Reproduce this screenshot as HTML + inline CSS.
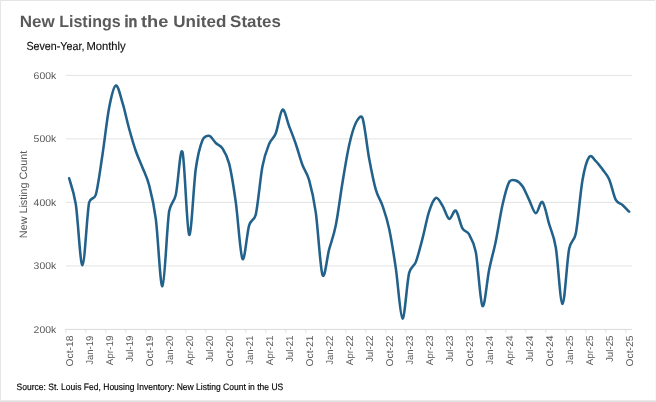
<!DOCTYPE html>
<html lang="en"><head><meta charset="utf-8"><title>New Listings in the United States</title>
<style>
html,body{margin:0;padding:0;background:#fff;}
body{width:656px;height:402px;overflow:hidden;}
svg{display:block;text-rendering:geometricPrecision;font-family:"Liberation Sans",sans-serif;}
</style></head><body>
<svg width="656" height="402" viewBox="0 0 656 402">
<rect x="0" y="0" width="656" height="402" fill="#ffffff"/>
<rect x="0" y="0" width="656" height="1" fill="#e4e4e4"/>
<rect x="0" y="0" width="1" height="402" fill="#e6e6e6"/>
<rect x="655" y="0" width="1" height="402" fill="#f8f8f8"/>
<rect x="0" y="400" width="656" height="1" fill="#eaeaea"/>
<rect x="0" y="401" width="656" height="1" fill="#e2e2e2"/>

<line x1="66" x2="632" y1="75.4" y2="75.4" stroke="#e3e3e3" stroke-width="1"/>
<line x1="66" x2="632" y1="138.9" y2="138.9" stroke="#e3e3e3" stroke-width="1"/>
<line x1="66" x2="632" y1="202.4" y2="202.4" stroke="#e3e3e3" stroke-width="1"/>
<line x1="66" x2="632" y1="265.9" y2="265.9" stroke="#e3e3e3" stroke-width="1"/>
<line x1="65.5" x2="632.2" y1="329.4" y2="329.4" stroke="#d9d9d9" stroke-width="1"/>
<line x1="65.80" x2="65.80" y1="329.4" y2="332.7" stroke="#dedede" stroke-width="1"/>
<line x1="85.80" x2="85.80" y1="329.4" y2="332.7" stroke="#dedede" stroke-width="1"/>
<line x1="105.80" x2="105.80" y1="329.4" y2="332.7" stroke="#dedede" stroke-width="1"/>
<line x1="125.80" x2="125.80" y1="329.4" y2="332.7" stroke="#dedede" stroke-width="1"/>
<line x1="145.80" x2="145.80" y1="329.4" y2="332.7" stroke="#dedede" stroke-width="1"/>
<line x1="165.80" x2="165.80" y1="329.4" y2="332.7" stroke="#dedede" stroke-width="1"/>
<line x1="185.80" x2="185.80" y1="329.4" y2="332.7" stroke="#dedede" stroke-width="1"/>
<line x1="205.80" x2="205.80" y1="329.4" y2="332.7" stroke="#dedede" stroke-width="1"/>
<line x1="225.80" x2="225.80" y1="329.4" y2="332.7" stroke="#dedede" stroke-width="1"/>
<line x1="245.80" x2="245.80" y1="329.4" y2="332.7" stroke="#dedede" stroke-width="1"/>
<line x1="265.80" x2="265.80" y1="329.4" y2="332.7" stroke="#dedede" stroke-width="1"/>
<line x1="285.80" x2="285.80" y1="329.4" y2="332.7" stroke="#dedede" stroke-width="1"/>
<line x1="305.80" x2="305.80" y1="329.4" y2="332.7" stroke="#dedede" stroke-width="1"/>
<line x1="325.80" x2="325.80" y1="329.4" y2="332.7" stroke="#dedede" stroke-width="1"/>
<line x1="345.80" x2="345.80" y1="329.4" y2="332.7" stroke="#dedede" stroke-width="1"/>
<line x1="365.80" x2="365.80" y1="329.4" y2="332.7" stroke="#dedede" stroke-width="1"/>
<line x1="385.80" x2="385.80" y1="329.4" y2="332.7" stroke="#dedede" stroke-width="1"/>
<line x1="405.80" x2="405.80" y1="329.4" y2="332.7" stroke="#dedede" stroke-width="1"/>
<line x1="425.80" x2="425.80" y1="329.4" y2="332.7" stroke="#dedede" stroke-width="1"/>
<line x1="445.80" x2="445.80" y1="329.4" y2="332.7" stroke="#dedede" stroke-width="1"/>
<line x1="465.80" x2="465.80" y1="329.4" y2="332.7" stroke="#dedede" stroke-width="1"/>
<line x1="485.80" x2="485.80" y1="329.4" y2="332.7" stroke="#dedede" stroke-width="1"/>
<line x1="505.80" x2="505.80" y1="329.4" y2="332.7" stroke="#dedede" stroke-width="1"/>
<line x1="525.80" x2="525.80" y1="329.4" y2="332.7" stroke="#dedede" stroke-width="1"/>
<line x1="545.80" x2="545.80" y1="329.4" y2="332.7" stroke="#dedede" stroke-width="1"/>
<line x1="565.80" x2="565.80" y1="329.4" y2="332.7" stroke="#dedede" stroke-width="1"/>
<line x1="585.80" x2="585.80" y1="329.4" y2="332.7" stroke="#dedede" stroke-width="1"/>
<line x1="605.80" x2="605.80" y1="329.4" y2="332.7" stroke="#dedede" stroke-width="1"/>
<line x1="625.80" x2="625.80" y1="329.4" y2="332.7" stroke="#dedede" stroke-width="1"/>
<text x="56.2" y="78.5" text-anchor="end" font-size="9.8" fill="#595959" textLength="22.6" lengthAdjust="spacingAndGlyphs">600k</text>
<text x="56.2" y="142.0" text-anchor="end" font-size="9.8" fill="#595959" textLength="22.6" lengthAdjust="spacingAndGlyphs">500k</text>
<text x="56.2" y="205.5" text-anchor="end" font-size="9.8" fill="#595959" textLength="22.6" lengthAdjust="spacingAndGlyphs">400k</text>
<text x="56.2" y="269.0" text-anchor="end" font-size="9.8" fill="#595959" textLength="22.6" lengthAdjust="spacingAndGlyphs">300k</text>
<text x="56.2" y="332.5" text-anchor="end" font-size="9.8" fill="#595959" textLength="22.6" lengthAdjust="spacingAndGlyphs">200k</text>
<text transform="translate(72.68,335.6) rotate(-90)" text-anchor="end" font-size="9.8" fill="#595959" textLength="30.8" lengthAdjust="spacingAndGlyphs">Oct-18</text>
<text transform="translate(92.68,335.6) rotate(-90)" text-anchor="end" font-size="9.8" fill="#595959" textLength="29.2" lengthAdjust="spacingAndGlyphs">Jan-19</text>
<text transform="translate(112.68,335.6) rotate(-90)" text-anchor="end" font-size="9.8" fill="#595959" textLength="29.7" lengthAdjust="spacingAndGlyphs">Apr-19</text>
<text transform="translate(132.68,335.6) rotate(-90)" text-anchor="end" font-size="9.8" fill="#595959" textLength="26.4" lengthAdjust="spacingAndGlyphs">Jul-19</text>
<text transform="translate(152.68,335.6) rotate(-90)" text-anchor="end" font-size="9.8" fill="#595959" textLength="30.8" lengthAdjust="spacingAndGlyphs">Oct-19</text>
<text transform="translate(172.68,335.6) rotate(-90)" text-anchor="end" font-size="9.8" fill="#595959" textLength="29.2" lengthAdjust="spacingAndGlyphs">Jan-20</text>
<text transform="translate(192.68,335.6) rotate(-90)" text-anchor="end" font-size="9.8" fill="#595959" textLength="29.7" lengthAdjust="spacingAndGlyphs">Apr-20</text>
<text transform="translate(212.68,335.6) rotate(-90)" text-anchor="end" font-size="9.8" fill="#595959" textLength="26.4" lengthAdjust="spacingAndGlyphs">Jul-20</text>
<text transform="translate(232.68,335.6) rotate(-90)" text-anchor="end" font-size="9.8" fill="#595959" textLength="30.8" lengthAdjust="spacingAndGlyphs">Oct-20</text>
<text transform="translate(252.68,335.6) rotate(-90)" text-anchor="end" font-size="9.8" fill="#595959" textLength="29.2" lengthAdjust="spacingAndGlyphs">Jan-21</text>
<text transform="translate(272.68,335.6) rotate(-90)" text-anchor="end" font-size="9.8" fill="#595959" textLength="29.7" lengthAdjust="spacingAndGlyphs">Apr-21</text>
<text transform="translate(292.68,335.6) rotate(-90)" text-anchor="end" font-size="9.8" fill="#595959" textLength="26.4" lengthAdjust="spacingAndGlyphs">Jul-21</text>
<text transform="translate(312.68,335.6) rotate(-90)" text-anchor="end" font-size="9.8" fill="#595959" textLength="30.8" lengthAdjust="spacingAndGlyphs">Oct-21</text>
<text transform="translate(332.68,335.6) rotate(-90)" text-anchor="end" font-size="9.8" fill="#595959" textLength="29.2" lengthAdjust="spacingAndGlyphs">Jan-22</text>
<text transform="translate(352.68,335.6) rotate(-90)" text-anchor="end" font-size="9.8" fill="#595959" textLength="29.7" lengthAdjust="spacingAndGlyphs">Apr-22</text>
<text transform="translate(372.68,335.6) rotate(-90)" text-anchor="end" font-size="9.8" fill="#595959" textLength="26.4" lengthAdjust="spacingAndGlyphs">Jul-22</text>
<text transform="translate(392.68,335.6) rotate(-90)" text-anchor="end" font-size="9.8" fill="#595959" textLength="30.8" lengthAdjust="spacingAndGlyphs">Oct-22</text>
<text transform="translate(412.69,335.6) rotate(-90)" text-anchor="end" font-size="9.8" fill="#595959" textLength="29.2" lengthAdjust="spacingAndGlyphs">Jan-23</text>
<text transform="translate(432.69,335.6) rotate(-90)" text-anchor="end" font-size="9.8" fill="#595959" textLength="29.7" lengthAdjust="spacingAndGlyphs">Apr-23</text>
<text transform="translate(452.69,335.6) rotate(-90)" text-anchor="end" font-size="9.8" fill="#595959" textLength="26.4" lengthAdjust="spacingAndGlyphs">Jul-23</text>
<text transform="translate(472.69,335.6) rotate(-90)" text-anchor="end" font-size="9.8" fill="#595959" textLength="30.8" lengthAdjust="spacingAndGlyphs">Oct-23</text>
<text transform="translate(492.69,335.6) rotate(-90)" text-anchor="end" font-size="9.8" fill="#595959" textLength="29.2" lengthAdjust="spacingAndGlyphs">Jan-24</text>
<text transform="translate(512.69,335.6) rotate(-90)" text-anchor="end" font-size="9.8" fill="#595959" textLength="29.7" lengthAdjust="spacingAndGlyphs">Apr-24</text>
<text transform="translate(532.69,335.6) rotate(-90)" text-anchor="end" font-size="9.8" fill="#595959" textLength="26.4" lengthAdjust="spacingAndGlyphs">Jul-24</text>
<text transform="translate(552.69,335.6) rotate(-90)" text-anchor="end" font-size="9.8" fill="#595959" textLength="30.8" lengthAdjust="spacingAndGlyphs">Oct-24</text>
<text transform="translate(572.69,335.6) rotate(-90)" text-anchor="end" font-size="9.8" fill="#595959" textLength="29.2" lengthAdjust="spacingAndGlyphs">Jan-25</text>
<text transform="translate(592.69,335.6) rotate(-90)" text-anchor="end" font-size="9.8" fill="#595959" textLength="29.7" lengthAdjust="spacingAndGlyphs">Apr-25</text>
<text transform="translate(612.69,335.6) rotate(-90)" text-anchor="end" font-size="9.8" fill="#595959" textLength="26.4" lengthAdjust="spacingAndGlyphs">Jul-25</text>
<text transform="translate(632.69,335.6) rotate(-90)" text-anchor="end" font-size="9.8" fill="#595959" textLength="30.8" lengthAdjust="spacingAndGlyphs">Oct-25</text>
<text transform="translate(27,194.4) rotate(-90)" text-anchor="middle" font-size="10.7" fill="#595959" textLength="87.5" lengthAdjust="spacingAndGlyphs">New Listing Count</text>
<path d="M69.13,178.27 C70.15,182.25 73.76,191.02 75.80,204.31 C78.02,218.80 80.24,265.58 82.47,265.26 C84.69,264.95 86.91,214.15 89.13,202.40 C90.07,197.43 94.44,199.65 95.80,194.78 C98.02,186.84 100.24,169.27 102.47,154.78 C104.69,140.28 106.91,119.32 109.13,107.78 C111.33,96.39 113.61,86.40 115.80,85.56 C118.02,84.71 120.24,95.51 122.47,102.71 C124.69,109.90 126.91,120.70 129.13,128.74 C131.36,136.78 133.58,144.51 135.80,150.97 C138.02,157.42 140.24,161.76 142.47,167.48 C144.69,173.19 146.91,176.68 149.13,185.25 C151.36,193.83 153.58,202.08 155.80,218.91 C158.02,235.74 160.24,287.49 162.47,286.22 C164.69,284.95 166.91,226.53 169.13,211.29 C170.42,202.48 173.85,203.47 175.80,194.78 C178.02,184.88 180.25,145.25 182.47,151.92 C184.69,158.59 186.91,231.98 189.13,234.78 C191.36,237.59 193.58,184.51 195.80,168.75 C197.85,154.22 200.42,145.24 202.47,140.17 C203.97,136.46 207.63,135.40 209.13,135.73 C211.36,136.20 213.58,140.91 215.80,143.03 C218.02,145.14 220.25,144.99 222.47,148.43 C224.46,151.51 227.14,155.59 229.13,163.67 C231.36,172.66 233.58,186.53 235.80,202.40 C238.02,218.28 240.25,255.11 242.47,258.92 C244.69,262.73 246.91,232.67 249.13,225.26 C250.96,219.18 254.40,220.65 255.80,214.47 C258.02,204.62 260.25,177.95 262.47,166.21 C264.62,154.81 266.98,149.32 269.13,143.98 C271.36,138.48 273.58,138.90 275.80,133.19 C278.02,127.47 280.25,110.85 282.47,109.69 C284.69,108.53 286.91,120.48 289.13,126.20 C291.36,131.92 293.58,137.52 295.80,143.98 C298.02,150.44 300.25,158.90 302.47,164.94 C304.69,170.97 306.91,172.24 309.13,180.18 C311.36,188.11 313.58,196.79 315.80,212.56 C318.02,228.33 320.25,268.65 322.47,274.79 C324.69,280.93 326.91,257.65 329.13,249.39 C331.36,241.14 333.58,236.37 335.80,225.26 C338.02,214.15 340.25,196.05 342.47,182.72 C344.69,169.38 346.91,155.20 349.13,145.25 C351.36,135.30 353.58,127.58 355.80,123.03 C357.64,119.26 361.00,114.02 362.47,117.95 C364.69,123.87 366.91,146.63 369.13,158.59 C371.36,170.54 373.58,181.87 375.80,189.70 C378.02,197.53 380.25,199.07 382.47,205.58 C384.69,212.08 386.91,218.33 389.13,228.75 C391.36,239.18 393.58,253.15 395.80,268.12 C398.02,283.10 400.25,317.81 402.47,318.61 C404.69,319.40 406.91,282.30 409.14,272.88 C410.59,266.71 414.35,265.84 415.80,262.09 C418.02,256.38 420.25,247.06 422.47,238.59 C424.69,230.13 426.91,218.06 429.14,211.29 C431.36,204.52 433.58,198.91 435.80,197.96 C438.02,197.00 440.25,202.08 442.47,205.58 C444.69,209.07 446.91,218.06 449.14,218.91 C451.36,219.76 453.58,209.07 455.80,210.66 C458.02,212.24 460.25,224.47 462.47,228.44 C464.66,232.36 466.92,230.56 469.14,234.47 C470.85,237.49 474.09,242.74 475.80,251.93 C478.02,263.84 480.25,302.94 482.47,305.90 C484.69,308.87 486.91,280.51 489.14,269.71 C491.36,258.92 493.58,251.93 495.80,241.14 C498.02,230.34 500.25,214.78 502.47,204.94 C504.69,195.10 506.91,186.15 509.14,182.08 C510.78,179.07 514.16,179.98 515.80,180.49 C518.02,181.18 520.25,182.98 522.47,186.21 C524.69,189.44 526.91,195.36 529.14,199.86 C531.36,204.36 533.58,212.84 535.80,213.20 C538.02,213.55 540.25,200.22 542.47,202.02 C544.69,203.82 546.91,216.41 549.14,223.99 C551.14,230.83 553.80,235.44 555.80,247.49 C558.02,260.82 560.25,303.79 562.47,304.00 C564.69,304.21 566.91,260.50 569.14,248.75 C570.68,240.58 574.22,241.68 575.80,233.52 C578.02,222.09 580.25,192.93 582.47,180.18 C584.54,168.30 587.07,159.96 589.14,157.00 C591.36,153.82 593.58,159.06 595.80,161.12 C598.02,163.19 600.25,166.36 602.47,169.38 C604.69,172.40 606.91,174.14 609.14,179.22 C611.36,184.30 613.58,195.57 615.80,199.86 C617.73,203.58 620.54,203.23 622.47,204.94 C624.69,206.91 626.91,209.43 629.14,211.67" fill="none" stroke="#22618a" stroke-width="2.55" stroke-linecap="round" stroke-linejoin="round"/>
<text y="27" font-size="16.5" font-weight="bold" fill="#595959"><tspan x="19.8" textLength="35.0" lengthAdjust="spacingAndGlyphs">New</tspan> <tspan x="59.2" textLength="61.5" lengthAdjust="spacingAndGlyphs">Listings</tspan> <tspan x="124.5" textLength="12.7" lengthAdjust="spacingAndGlyphs" stroke="#595959" stroke-width="0.4">in</tspan> <tspan x="141.0" textLength="27.4" lengthAdjust="spacingAndGlyphs">the</tspan> <tspan x="173.3" textLength="53.0" lengthAdjust="spacingAndGlyphs">United</tspan> <tspan x="230.1" textLength="50.8" lengthAdjust="spacingAndGlyphs">States</tspan></text>
<text y="50" font-size="11.7" fill="#111111" stroke="#111111" stroke-width="0.15"><tspan x="26.4" textLength="58" lengthAdjust="spacingAndGlyphs">Seven-Year,</tspan> <tspan x="86.4" textLength="39.3" lengthAdjust="spacingAndGlyphs">Monthly</tspan></text>
<text x="16.5" y="390" font-size="9.3" fill="#000000" stroke="#000000" stroke-width="0.15" textLength="266.8" lengthAdjust="spacingAndGlyphs">Source: St. Louis Fed, Housing Inventory: New Listing Count in the US</text>
</svg></body></html>
